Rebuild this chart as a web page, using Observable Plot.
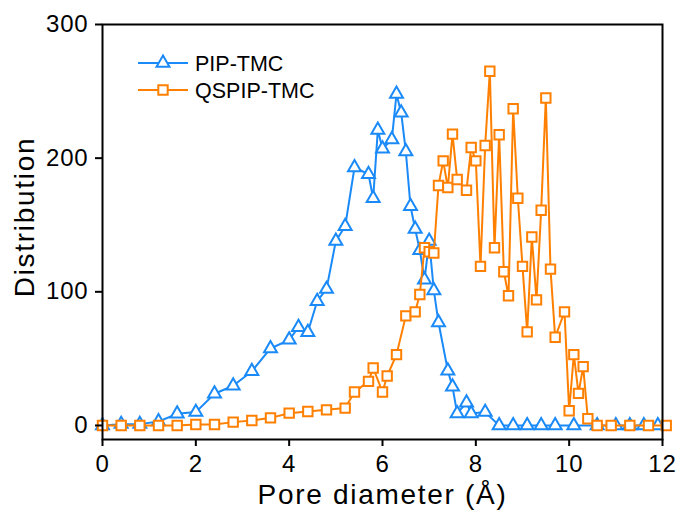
<!DOCTYPE html>
<html><head><meta charset="utf-8">
<script src="https://cdn.jsdelivr.net/npm/d3@7"></script>
<script src="https://cdn.jsdelivr.net/npm/@observablehq/plot@0.6"></script>
<style>
body{margin:0;background:#fff;}
#wrap{position:relative;width:681px;height:513px;font-family:"Liberation Sans",Arial,sans-serif;}
</style></head><body>
<div id="wrap"></div>
<script>
// PIP-TMC series (blue triangles)
const pipX = [0,0.4,0.8,1.2,1.6,2.0,2.4,2.8,3.2,3.6,4.0,4.2,4.4,4.6,4.8,5.0,5.2,5.4,5.7,5.8,5.9,6.0,6.2,6.3,6.4,6.5,6.6,6.7,6.8,6.9,7.0,7.1,7.2,7.4,7.5,7.6,7.8,7.9,8.2,8.5,8.8,9.1,9.4,9.7,10.1,10.6,11.0,11.3,11.6,11.9];
const pipY = [0,1,1,3,8.7,10,23.7,29.7,40.6,57.6,64.1,73.5,69.8,93,102,138,149,193,188,170,221,207,214,248,234,205,164,147,131,109,138,101,77,41,29,9,17,9,10,0,0,0,0,0,0,0,0,0,0,0];
// QSPIP-TMC series (orange squares)
const qsX = [0,0.4,0.8,1.2,1.6,2.0,2.4,2.8,3.2,3.6,4.0,4.4,4.8,5.2,5.4,5.7,5.8,6.0,6.1,6.3,6.5,6.7,6.8,6.9,7.0,7.1,7.2,7.3,7.4,7.5,7.6,7.8,7.9,8.0,8.1,8.2,8.3,8.4,8.5,8.6,8.7,8.8,8.9,9.0,9.1,9.2,9.3,9.4,9.5,9.6,9.7,9.9,10.0,10.1,10.2,10.3,10.4,10.6,10.9,11.3,11.7,12.08];
const qsY = [0,0,0,0,0,0.7,0.7,2.5,3.7,5.7,9.2,10.5,11.7,13,25,33,43,25,37,53,82,85,98,133,130,129,179.5,198,178,218,184,176,208,198,119,209.5,265,133,217.5,115,97,237,170,119,70,141,94,161,245,117,66,85,11,53,24,44,5,0,0,0,0,0];
const xTicks = [0,2,4,6,8,10,12];
const yTicks = [0,100,200,300];
const seriesNames = ["PIP-TMC","QSPIP-TMC"];
const colors = ["#1A8AF8","#FF8000"];
const xLabel = "Pore diameter (Å)";
const yLabel = "Distribution";

const pip = pipX.map((x,i)=>({x, y: pipY[i]}));
const qs = qsX.map((x,i)=>({x, y: qsY[i]}));
const FONT = "Liberation Sans, Arial, sans-serif";

const chart = Plot.plot({
  width:681, height:513, marginLeft:102, marginRight:19, marginTop:24, marginBottom:74,
  style:{fontFamily:FONT, fontSize:"24px", color:"black", background:"white"},
  x:{domain:[0,12]},
  y:{domain:[-10.5,300]},
  marks:[
    Plot.line(pip, {x:"x", y:"y", stroke:colors[0], strokeWidth:2}),
    Plot.dot(pip, {x:"x", y:"y", symbol:"triangle", r:4.8, stroke:colors[0], fill:"white", strokeWidth:2}),
    Plot.line(qs, {x:"x", y:"y", stroke:colors[1], strokeWidth:2}),
    Plot.dot(qs, {x:"x", y:"y", symbol:"square", r:5.3, stroke:colors[1], fill:"white", strokeWidth:2}),
    Plot.frame({stroke:"black", strokeWidth:2}),
    Plot.axisX({ticks:xTicks, tickSize:7, tickPadding:8, strokeWidth:2, label:null, fontSize:24}),
    Plot.axisY({ticks:yTicks, tickSize:7, tickPadding:7, strokeWidth:2, label:null, fontSize:24}),
    Plot.text([yLabel], {text:d=>d, frameAnchor:"left", textAnchor:"middle", lineAnchor:"middle", rotate:-90, dx:-77, dy:-15, fontSize:28}),
    Plot.text([xLabel], {text:d=>d, frameAnchor:"bottom", textAnchor:"middle", lineAnchor:"middle", dy:56, fontSize:28})
  ]
});
const wrap = document.getElementById("wrap");
wrap.appendChild(chart);
d3.select(chart).selectAll("text").each(function(){
  const t = this.textContent;
  if (t === xLabel || t === yLabel) d3.select(this).attr("letter-spacing", "1.7px");
  else if (/^\d+$/.test(t)) d3.select(this).attr("letter-spacing", "0.8px");
});

// legend overlay
const leg = d3.create("svg").attr("width",681).attr("height",513)
  .style("position","absolute").style("left","0px").style("top","0px");
const rows = [{y:63, sym:d3.symbolTriangle, size:Math.PI*4.8*4.8},{y:90, sym:d3.symbolSquare, size:Math.PI*5.3*5.3}];
rows.forEach((r,i)=>{
  leg.append("line").attr("x1",138).attr("x2",188).attr("y1",r.y).attr("y2",r.y)
    .attr("stroke",colors[i]).attr("stroke-width",2);
  leg.append("path").attr("d",d3.symbol(r.sym,r.size)()).attr("transform",`translate(163,${r.y})`)
    .attr("fill","white").attr("stroke",colors[i]).attr("stroke-width",2);
  leg.append("text").attr("x",195).attr("y",r.y).attr("dy","0.35em")
    .attr("font-family",FONT).attr("font-size",21.5).text(seriesNames[i]);
});
wrap.appendChild(leg.node());
</script>
</body></html>
